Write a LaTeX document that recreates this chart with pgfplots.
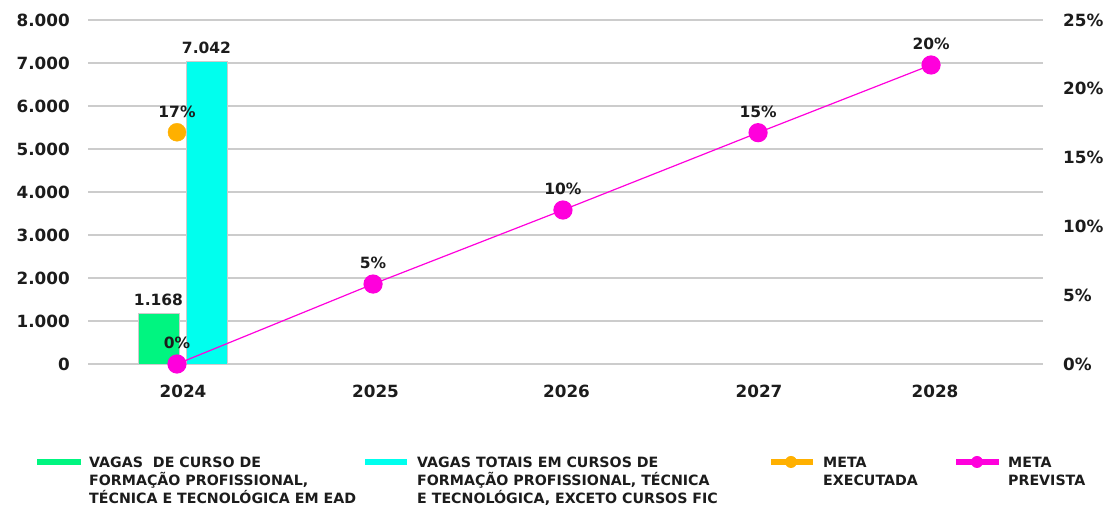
\documentclass[border=0pt]{standalone}
\usepackage{fontspec}
\setmainfont{DejaVu Sans}
\usepackage{pgfplots}
\pgfplotsset{compat=1.18}
\definecolor{cgreen}{HTML}{00F580}
\definecolor{ccyan}{HTML}{00FFEE}
\definecolor{corange}{HTML}{FFB000}
\definecolor{cmag}{HTML}{FF00DC}
\definecolor{txt}{HTML}{1C1C1C}
\definecolor{cgrid}{HTML}{CCCCCC}
\begin{document}
\begin{tikzpicture}[x=1pt,y=1pt]
\useasboundingbox (0,0) rectangle (1104,505);
\begin{axis}[
  at={(88pt,141pt)}, anchor=south west, scale only axis,
  width=955pt, height=344pt,
  xmin=-0.5053, xmax=4.5745, ymin=0, ymax=8000,
  axis line style={draw=none}, major tick length=0pt,
  xtick={0,1.024,2.04,3.064,4},
  xticklabels={2024,2025,2026,2027,2028},
  ytick={0,1000,...,8000},
  ymajorgrids, grid style={line width=1.6pt, color=cgrid},
  /pgf/number format/1000 sep={.},
  /pgf/number format/assume math mode=true,
  tick label style={font=\fontsize{16.8}{20}\selectfont\bfseries, text=txt},
  yticklabel style={xshift=-14.7pt},
  xticklabel style={yshift=-17.7pt},
  nodes near coords,
  every node near coord/.append style={font=\fontsize{15.5}{18}\selectfont\bfseries, text=txt, yshift=4pt},
  clip=false,
]
\addplot[ybar, bar width=0.218, bar shift=0pt, fill=cgreen, draw=black!20, line width=0.6pt] coordinates {(-0.1303,1168)};
\addplot[ybar, bar width=0.218, bar shift=0pt, fill=ccyan, draw=black!20, line width=0.6pt] coordinates {(0.125,7042)};
\end{axis}
\begin{axis}[
  at={(88pt,141pt)}, anchor=south west, scale only axis,
  width=955pt, height=344pt,
  xmin=-0.5053, xmax=4.5745, ymin=0, ymax=25,
  axis x line=none, axis y line*=right,
  axis line style={draw=none}, major tick length=0pt,
  ytick={0,5,...,25},
  /pgf/number format/assume math mode=true,
  yticklabel={\pgfmathprintnumber{\tick}\%},
  tick label style={font=\fontsize{16.8}{20}\selectfont\bfseries, text=txt},
  yticklabel style={xshift=16.7pt, anchor=west},
  nodes near coords, point meta=explicit symbolic,
  every node near coord/.append style={font=\fontsize{15.5}{18}\selectfont\bfseries, text=txt, yshift=11pt, anchor=south},
  clip=false,
]
\addplot[color=cmag, line width=1.2pt, mark=*, mark size=9pt, mark options={fill=cmag, draw=cmag}]
  coordinates {(-0.032,0)[0\%] (1.011,5.81)[5\%] (2.021,11.19)[10\%] (3.059,16.81)[15\%] (3.979,21.73)[20\%]};
\addplot[only marks, mark=*, mark size=9pt, color=corange, mark options={fill=corange, draw=corange}]
  coordinates {(-0.032,16.84)[17\%]};
\end{axis}
% legend
\begin{scope}[font=\fontsize{14.2}{18}\selectfont\bfseries]
\fill[cgreen] (37,40) rectangle (81,46);
\node[anchor=north west, align=left, inner sep=0pt, text=txt] at (89,48) {VAGAS\ \ DE CURSO DE\\FORMAÇÃO PROFISSIONAL,\\TÉCNICA E TECNOLÓGICA EM EAD};
\fill[ccyan] (365,40) rectangle (407,46);
\node[anchor=north west, align=left, inner sep=0pt, text=txt] at (417,48) {VAGAS TOTAIS EM CURSOS DE\\FORMAÇÃO PROFISSIONAL, TÉCNICA\\E TECNOLÓGICA, EXCETO CURSOS FIC};
\fill[corange] (771,40) rectangle (813,46);
\fill[corange] (791,43) circle (6);
\node[anchor=north west, align=left, inner sep=0pt, text=txt] at (823,48) {META\\EXECUTADA};
\fill[cmag] (956,40) rectangle (999,46);
\fill[cmag] (977,43) circle (6);
\node[anchor=north west, align=left, inner sep=0pt, text=txt] at (1008,48) {META\\PREVISTA};
\end{scope}
\end{tikzpicture}
\end{document}
